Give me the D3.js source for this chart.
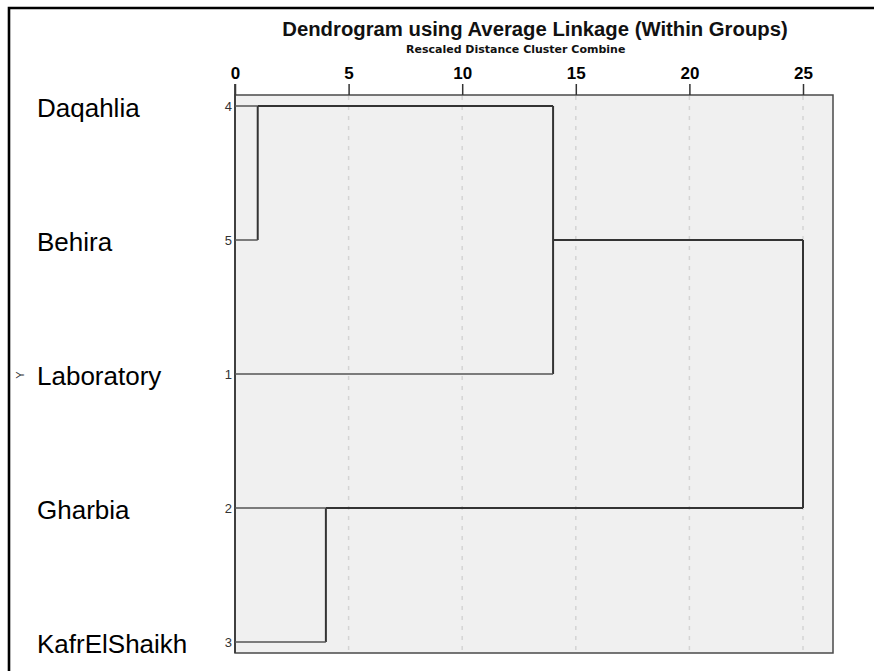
<!DOCTYPE html>
<html>
<head>
<meta charset="utf-8">
<script src="https://cdn.jsdelivr.net/npm/d3@7"></script>
<style>
  html, body { margin: 0; padding: 0; background: #fff; }
  svg { display: block; font-family: Arial, "Liberation Sans", sans-serif; }
</style>
</head>
<body>
<svg id="chart" width="874" height="671"></svg>
<script>
// Cases in dendrogram order, with their case numbers
const caseLabels = ["Daqahlia", "Behira", "Laboratory", "Gharbia", "KafrElShaikh"];
const caseNumbers = [4, 5, 1, 2, 3];

// Agglomeration steps: clusters 0-4 are the cases, each step creates cluster 5, 6, ...
const mergeFirst = [0, 5, 3, 6];
const mergeSecond = [1, 2, 4, 7];
const mergeDistance = [1, 14, 4, 25];

// Rescaled distance axis
const tickValues = [0, 5, 10, 15, 20, 25];

const svg = d3.select("#chart");

const plot = { left: 235, right: 833, top: 95, bottom: 653 };
const x = d3.scaleLinear().domain([0, 25]).range([plot.left, 803]);
const y = d3.scalePoint().domain(d3.range(caseLabels.length)).range([106, 642]);

// Outer frame (left and top edges)
svg.append("path")
  .attr("d", `M9,671 V8 H874`)
  .attr("fill", "none").attr("stroke", "#000").attr("stroke-width", 2.6);

// Titles
svg.append("text").attr("x", 535).attr("y", 36).attr("text-anchor", "middle")
  .attr("font-size", 20.3).attr("font-weight", "bold").attr("fill", "#111")
  .text("Dendrogram using Average Linkage (Within Groups)");
svg.append("text").attr("x", 406).attr("y", 53).attr("text-anchor", "start")
  .attr("font-size", 11).attr("font-weight", "bold").attr("fill", "#111")
  .attr("font-family", "'DejaVu Sans', Verdana, sans-serif")
  .text("Rescaled Distance Cluster Combine");

// Plot background
svg.append("rect")
  .attr("x", plot.left).attr("y", plot.top)
  .attr("width", plot.right - plot.left).attr("height", plot.bottom - plot.top)
  .attr("fill", "#f0f0f0").attr("stroke", "#4a4a4a").attr("stroke-width", 1.5);

// Dashed reference lines
svg.append("g").selectAll("line")
  .data(tickValues.filter(d => d > 0))
  .join("line")
  .attr("x1", d => x(d)).attr("x2", d => x(d))
  .attr("y1", plot.top + 1).attr("y2", plot.bottom - 1)
  .attr("stroke", "#d4d4d4").attr("stroke-width", 1.5).attr("stroke-dasharray", "4,6");

// Top axis
const axis = d3.axisTop(x).tickValues(tickValues).tickSize(11).tickSizeOuter(0).tickPadding(5);
const gAxis = svg.append("g").attr("transform", `translate(0,${plot.top})`).call(axis);
gAxis.select(".domain").remove();
gAxis.selectAll(".tick line").attr("stroke", "#333").attr("stroke-width", 1.5);
gAxis.selectAll(".tick text")
  .attr("font-size", 17).attr("font-weight", "bold").attr("fill", "#000")
  .attr("font-family", "Arial, 'Liberation Sans', sans-serif");

// Left axis line at distance 0
svg.append("line")
  .attr("x1", x(0)).attr("x2", x(0))
  .attr("y1", plot.top - 11).attr("y2", plot.bottom)
  .attr("stroke", "#3a3a3a").attr("stroke-width", 1.8);

// Case labels and case numbers
svg.append("g").selectAll("text")
  .data(caseLabels)
  .join("text")
  .attr("x", 37).attr("y", (d, i) => y(i) + 11)
  .attr("font-size", 26).attr("fill", "#000")
  .text(d => d);

svg.append("g").selectAll("text")
  .data(caseNumbers)
  .join("text")
  .attr("x", 232).attr("y", (d, i) => y(i) + 5)
  .attr("text-anchor", "end")
  .attr("font-size", 13).attr("fill", "#333")
  .text(d => d);

// Rotated axis marker beside the labels
svg.append("text")
  .attr("transform", `translate(24,${y(2) + 1}) rotate(-90)`)
  .attr("text-anchor", "middle")
  .attr("font-size", 11).attr("fill", "#333")
  .text("Y");

// Build the tree geometry from the agglomeration steps
const nodes = caseLabels.map((d, i) => ({ row: i, height: 0, leaf: true }));
mergeFirst.forEach((a, k) => {
  const b = mergeSecond[k];
  const h = mergeDistance[k];
  const na = nodes[a], nb = nodes[b];
  nodes.push({ row: Math.floor((na.row + nb.row) / 2), height: h, leaf: false, children: [na, nb] });
});

const gTree = svg.append("g").attr("fill", "none");
nodes.filter(n => !n.leaf).forEach(n => {
  const xm = x(n.height);
  const [c1, c2] = n.children;
  // vertical joining bar
  gTree.append("line")
    .attr("x1", xm).attr("x2", xm)
    .attr("y1", y(c1.row)).attr("y2", y(c2.row))
    .attr("stroke", "#333").attr("stroke-width", 2);
  // horizontal branches from each child
  [c1, c2].forEach(c => {
    gTree.append("line")
      .attr("x1", x(c.height)).attr("x2", xm)
      .attr("y1", y(c.row)).attr("y2", y(c.row))
      .attr("stroke", c.leaf ? "#555" : "#333")
      .attr("stroke-width", c.leaf ? 1.5 : 2);
  });
});
</script>
</body>
</html>
